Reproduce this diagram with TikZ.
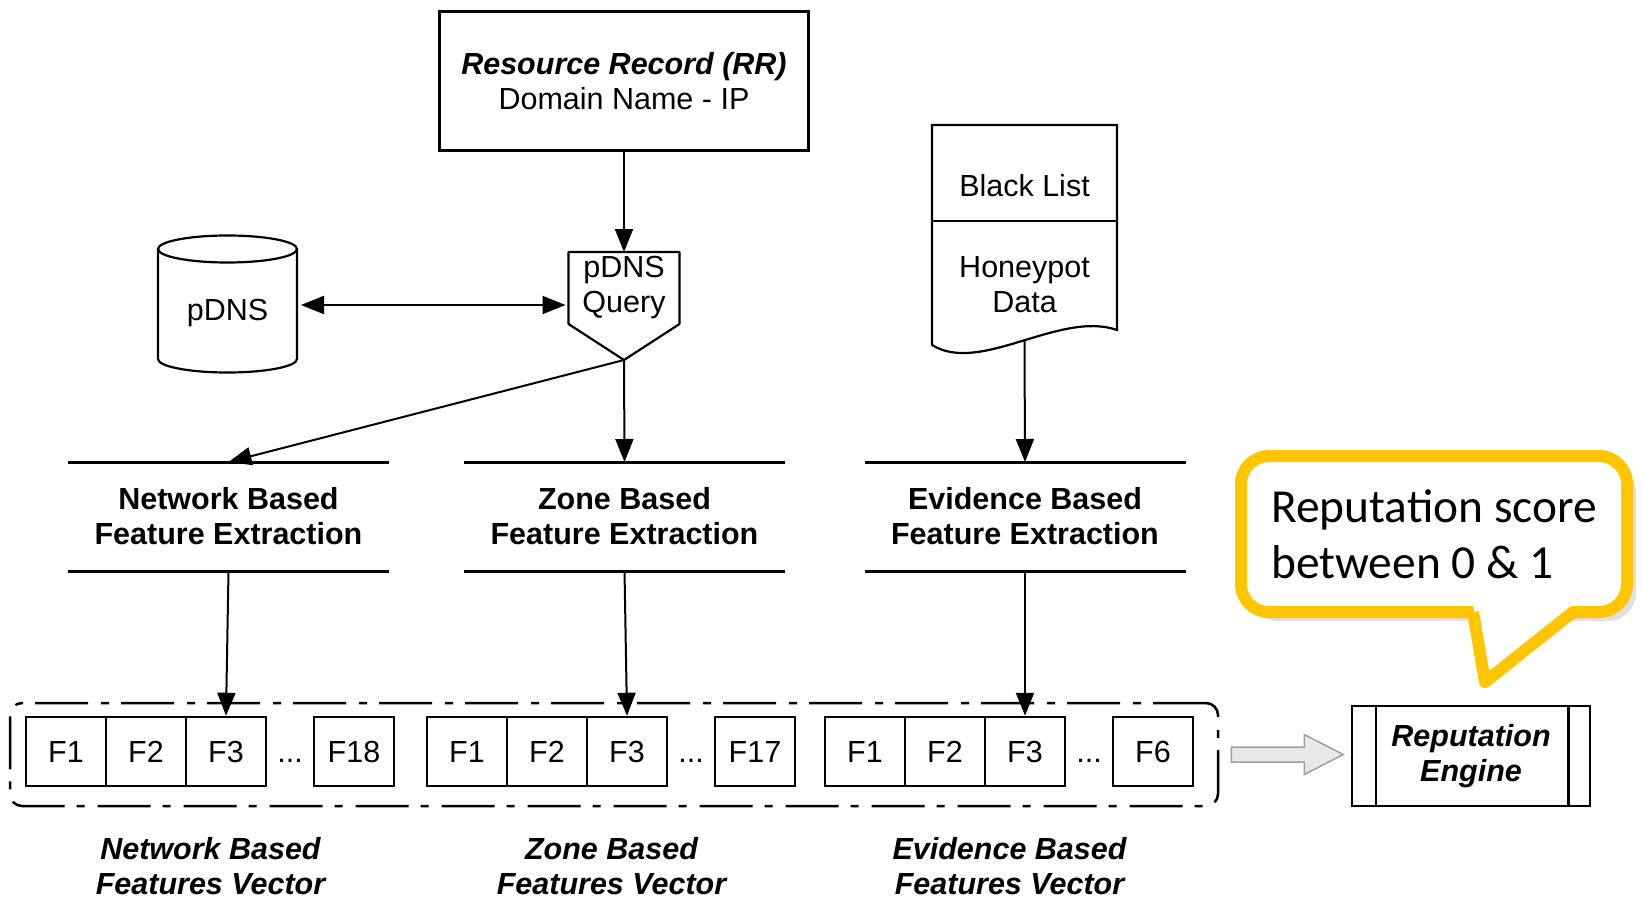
\documentclass[tikz,border=0pt]{standalone}
\usepackage{fontspec}
\setmainfont{Liberation Sans}
\newfontfamily\calfont{Carlito}
\usetikzlibrary{arrows.meta,calc,shadows}

\definecolor{calloutyellow}{RGB}{255,197,0}
\newcommand{\dsize}{\fontsize{30.5}{35}\selectfont}

\tikzset{
  arr/.style={line width=2, -{Triangle[length=23pt,width=18pt]}},
  dblarr/.style={line width=2, {Triangle[length=23pt,width=18pt]}-{Triangle[length=23pt,width=18pt]}},
  extract/.style={minimum width=321, minimum height=109, inner sep=0, outer sep=0, align=center, font=\dsize\bfseries},
  cell/.style={draw, line width=2.5, minimum width=80, minimum height=69, inner sep=0, text height=22, text depth=0},
  veclabel/.style={align=center, font=\dsize\bfseries\itshape}
}

\begin{document}
\begin{tikzpicture}[x=1pt,y=-1pt,font=\dsize]
\useasboundingbox (0,0) rectangle (1641,899);

\node[draw, line width=3, minimum width=369, minimum height=138, align=center] (rr) at (624,81)
  {\textbf{\textit{Resource Record (RR)}}\\Domain Name - IP};

\node[minimum width=111, minimum height=72, inner sep=0, outer sep=0, align=center] (query) at (624,288) {pDNS\\Query};
\coordinate (qtip) at ($(query.south)+(0,36)$);
\draw[line width=2.2, line join=round] (query.north west) -- (query.north east) -- (query.south east)
  -- (qtip) -- (query.south west) -- cycle;

% pDNS store
\draw[line width=2.2] (227.5,249) ellipse [x radius=69.5, y radius=13.5];
\draw[line width=2.2] (158,249) -- (158,359) arc [start angle=180, end angle=0, x radius=69.5, y radius=13.5] -- (297,249);
\node (pdns) at (227.5,313) {pDNS};
\coordinate (pdnsin) at (300,305);

% black list
\draw[line width=2.2] (932,125) -- (1117,125) -- (1117,330) .. controls (1060,310) and (980,375) .. (932,345) -- cycle;
\draw[line width=2.2] (932,221) -- (1117,221);
\node (black) at (1024.5,186) {Black List};
\node[align=center] (honey) at (1024.5,284.5) {Honeypot\\Data};
\coordinate (docbot) at (1024.5,340.5);

\node[extract] (netx) at (228.5,516.5) {Network Based\\Feature Extraction};
\node[extract] (zonex) at (624.5,516.5) {Zone Based\\Feature Extraction};
\node[extract] (evix) at (1025,516.5) {Evidence Based\\Feature Extraction};
\draw[line width=3] (netx.north west) -- (netx.north east) (netx.south west) -- (netx.south east);
\draw[line width=3] (zonex.north west) -- (zonex.north east) (zonex.south west) -- (zonex.south east);
\draw[line width=3] (evix.north west) -- (evix.north east) (evix.south west) -- (evix.south east);

% feature vectors
\pgfmathsetmacro{\vx}{26};
\node[cell] (net1) at (\vx+40,751.5) {F1};
\node[cell] (net2) at (\vx+120,751.5) {F2};
\node[cell] (net3) at (\vx+200,751.5) {F3};
\node[cell, draw=none] (netdots) at (\vx+264,751.5) {...};
\node[cell] (netn) at (\vx+328,751.5) {F18};
\node[veclabel] (netlabel) at (\vx+184.5,866) {Network Based\\Features Vector};

\pgfmathsetmacro{\vx}{427};
\node[cell] (zone1) at (\vx+40,751.5) {F1};
\node[cell] (zone2) at (\vx+120,751.5) {F2};
\node[cell] (zone3) at (\vx+200,751.5) {F3};
\node[cell, draw=none] (zonedots) at (\vx+264,751.5) {...};
\node[cell] (zonen) at (\vx+328,751.5) {F17};
\node[veclabel] (zonelabel) at (\vx+184.5,866) {Zone Based\\Features Vector};

\pgfmathsetmacro{\vx}{825};
\node[cell] (evi1) at (\vx+40,751.5) {F1};
\node[cell] (evi2) at (\vx+120,751.5) {F2};
\node[cell] (evi3) at (\vx+200,751.5) {F3};
\node[cell, draw=none] (evidots) at (\vx+264,751.5) {...};
\node[cell] (evin) at (\vx+328,751.5) {F6};
\node[veclabel] (evilabel) at (\vx+184.5,866) {Evidence Based\\Features Vector};

\node[draw, line width=2.5, dash pattern=on 53pt off 12pt on 8pt off 13pt, rounded corners=12,
  minimum width=1208, minimum height=103, inner sep=0] (vecs) at (614,754.5) {};

\draw[arr] (rr.south) -- (query.north);
\draw[dblarr, shorten <=1pt, shorten >=3pt] (pdnsin) -- (pdnsin -| query.west);
\draw[arr] (qtip) -- (netx.north);
\draw[arr] (qtip) -- (zonex.north);
\draw[arr] (docbot) -- (evix.north);
\draw[arr] (netx.south) -- (net3.north);
\draw[arr] (zonex.south) -- (zone3.north);
\draw[arr] (evix.south) -- (evi3.north);

% engine
\node[draw, line width=2.5, minimum width=238, minimum height=100, align=center, font=\dsize\bfseries\itshape] (engine) at (1471,756)
  {Reputation\\Engine};
\draw[line width=2.5] ([xshift=25]engine.north west) -- ([xshift=25]engine.south west);
\draw[line width=2.5] ([xshift=-23]engine.north east) -- ([xshift=-23]engine.south east);

\coordinate (gstart) at ($(vecs.east)+(12,0)$);
\draw[gray!75, fill=gray!18, line width=1.5] ($(gstart)+(0,-7.5)$) -- ++(73,0) -- ++(0,-12.5) -- ++(39,20)
  -- ++(-39,20) -- ++(0,-12.5) -- ++(-73,0) -- cycle;

% callout
\node[draw=calloutyellow, line width=12, rounded corners=28, fill=white, outer sep=0,
  drop shadow={shadow xshift=9pt, shadow yshift=-9pt, opacity=.25},
  minimum width=386, minimum height=156, align=left, font=\calfont\fontsize{47.4}{56}\selectfont] (score) at (1434,534)
  {Reputation score\\between 0 \& 1};
\coordinate (tailtip) at ($(score.south)+(51,70)$);
\fill[white] ($(score.south)+(39,-8)$) -- ($(score.south)+(139,-8)$) -- (tailtip) -- cycle;
\draw[calloutyellow, line width=12, line join=round] ($(score.south)+(39,0)$) -- (tailtip) -- ($(score.south)+(139,0)$);

\end{tikzpicture}
\end{document}
